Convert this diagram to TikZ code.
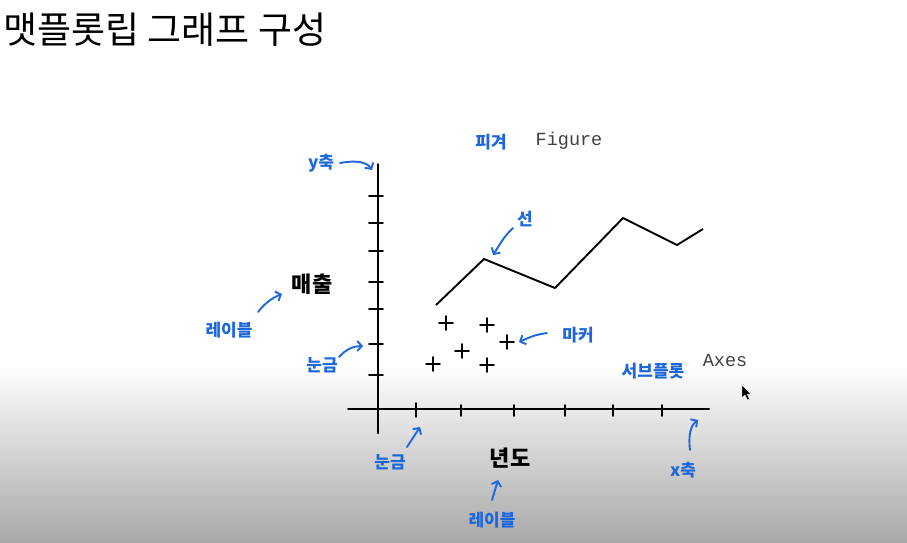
\documentclass[tikz,border=0pt]{standalone}
\usepackage{fontspec}
\setmainfont{Noto Sans CJK KR}
\newfontfamily\monof{Liberation Mono}
\usetikzlibrary{arrows.meta}
\definecolor{hb}{RGB}{28,103,222}
\begin{document}
\begin{tikzpicture}[x=1pt,y=-1pt,
  ann/.style={text=hb,font=\bfseries\fontsize{17}{17}\selectfont,inner sep=0pt},
  lbl/.style={font=\bfseries\fontsize{22}{22}\selectfont,inner sep=0pt},
  mono/.style={font=\monof\fontsize{18.5}{18.5}\selectfont,text=black!75,inner sep=0pt},
  arr/.style={draw=hb,line width=1.9pt,line cap=round,-{Straight Barb[length=4.5pt,width=10pt]}},
  axisline/.style={line width=2pt,line cap=round},
  tickline/.style={line width=1.6pt,line cap=round},
  plotline/.style={line width=1.9pt,line join=round},
  plusline/.style={line width=1.8pt,line cap=round}]
\useasboundingbox (0,0) rectangle (907,542);
\fill[white] (0,0) rectangle (907,542);
\shade[top color=white,bottom color=black!34] (0,365) rectangle (907,542);

% title
\node[anchor=west,inner sep=0pt,font=\fontsize{37}{37}\selectfont] (title) at (3,30) {맷플롯립 그래프 구성};

% axes
\coordinate (ytop) at (378,164);
\coordinate (ybot) at (378,433);
\coordinate (xl) at (348,409);
\coordinate (xr) at (709,409);
\draw[axisline] (ytop) -- (ybot);
\draw[axisline] (xl) -- (xr);
\foreach \y in {196,223,251,282,309,344,375}
  \draw[tickline] (369,\y) -- (383,\y);
\draw[tickline] (416,403) -- (416,417);
\foreach \x in {461,514,565,613,662}
  \draw[tickline] (\x,405) -- (\x,416);

% line plot
\coordinate (p1) at (436,305);
\coordinate (p2) at (484,259);
\coordinate (p3) at (555,288);
\coordinate (p4) at (623,218);
\coordinate (p5) at (677,245);
\coordinate (p6) at (703,229);
\draw[plotline] (p1) -- (p2) -- (p3) -- (p4) -- (p5) -- (p6);

% markers
\foreach \mx/\my in {446/323,487/325,507/342,462/351,433/364,487/365}
  \draw[plusline] (\mx-7,\my) -- (\mx+7,\my) (\mx,\my-7) -- (\mx,\my+7);

% texts
\node[ann] (fig) at (491,142) {피겨};
\node[mono] (figure) at (569,141) {Figure};
\node[ann] (sub) at (653,371) {서브플롯};
\node[mono] (axes) at (725,360) {Axes};
\node[lbl] (sales) at (312,284) {매출};
\node[lbl] (year) at (510,458) {년도};
\node[ann] (yax) at (321,163) {y축};
\node[ann] (lab1) at (229,330) {레이블};
\node[ann] (tick1) at (322,365) {눈금};
\node[ann] (line) at (525,219) {선};
\node[ann] (marker) at (578,335) {마커};
\node[ann] (tick2) at (390,462) {눈금};
\node[ann] (lab2) at (492,520) {레이블};
\node[ann] (xax) at (683,470) {x축};

% annotation arrows
\coordinate (a1s) at (340,163); \coordinate (a1e) at (372,170);
\draw[arr] (a1s) .. controls (356,160) and (367,162) .. (a1e);
\coordinate (a2s) at (258,312); \coordinate (a2e) at (282,294);
\draw[arr] (a2s) .. controls (265,303) and (272,298) .. (a2e);
\coordinate (a3s) at (339,357); \coordinate (a3e) at (363,346);
\draw[arr] (a3s) .. controls (346,349) and (354,346) .. (a3e);
\coordinate (a4s) at (513,228); \coordinate (a4e) at (493,255);
\draw[arr] (a4s) .. controls (505,236) .. (a4e);
\coordinate (a5s) at (547,333); \coordinate (a5e) at (519,342);
\draw[arr] (a5s) .. controls (535,335) .. (a5e);
\coordinate (a6s) at (407,447); \coordinate (a6e) at (420,427);
\draw[arr] (a6s) -- (a6e);
\coordinate (a7s) at (492,500); \coordinate (a7e) at (498,480);
\draw[arr] (a7s) -- (a7e);
\coordinate (a8s) at (690,450); \coordinate (a8e) at (698,420);
\draw[arr] (a8s) .. controls (688,435) and (691,425) .. (a8e);

% mouse cursor
\coordinate (cur) at (742,385);
\fill[black,draw=white,line width=0.4pt] (cur) -- ++(0,13) -- ++(3,-3) -- ++(2.5,5) -- ++(2,-1) -- ++(-2.5,-5) -- ++(4,0) -- cycle;
\end{tikzpicture}
\end{document}
